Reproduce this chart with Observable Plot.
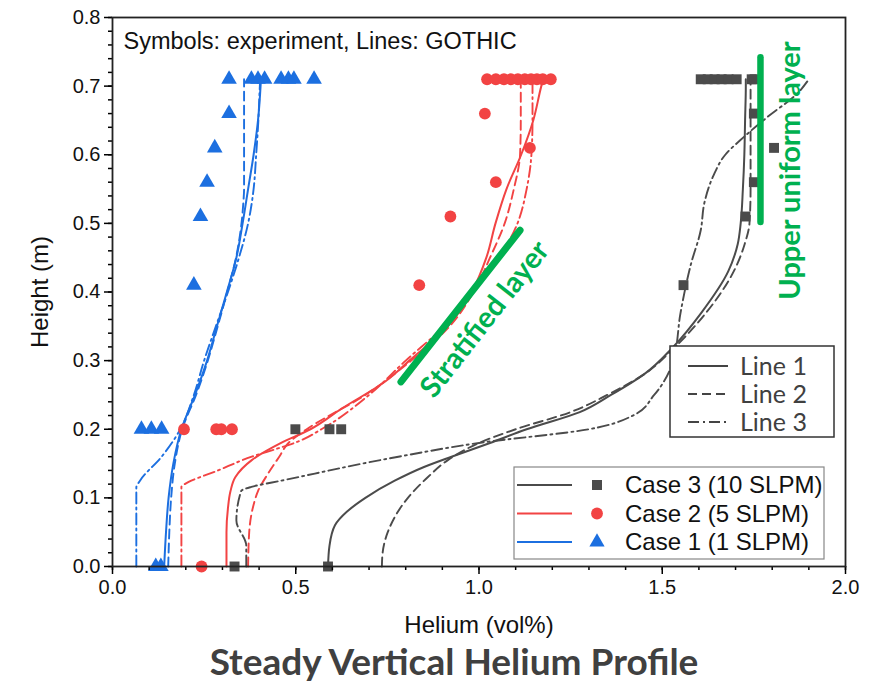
<!DOCTYPE html>
<html>
<head>
<meta charset="utf-8">
<script src="https://cdn.jsdelivr.net/npm/d3@7"></script>
<script src="https://cdn.jsdelivr.net/npm/@observablehq/plot@0.6"></script>
<style>
  body { margin: 0; background: #fff; }
  #chart svg { display: block; }
</style>
</head>
<body>
<div id="chart"></div>
<script>
// ---- Axis ticks ----
const xMajor = [0, 0.5, 1.0, 1.5, 2.0];
const yMajor = [0, 0.1, 0.2, 0.3, 0.4, 0.5, 0.6, 0.7, 0.8];

// ---- Case names and colours ----
const cases = ["Case 1 (1 SLPM)", "Case 2 (5 SLPM)", "Case 3 (10 SLPM)"];
const caseColors = ["#1c6fe0", "#f24343", "#4b4b4b"];
const caseSymbols = ["triangle", "circle", "square"];
const lineNames = ["Line 1", "Line 2", "Line 3"];
const lineDash = [null, "9,5", "11,4,2,4"];

// ---- Experiment (symbols): height (m) and helium (vol%) ----
const exp1Height = [0.71, 0.71, 0.71, 0.71, 0.71, 0.71, 0.71, 0.71, 0.66, 0.61, 0.56, 0.51, 0.41, 0.2, 0.2, 0.2, 0, 0];
const exp1Helium = [0.318, 0.379, 0.397, 0.415, 0.46, 0.48, 0.495, 0.55, 0.318, 0.279, 0.258, 0.24, 0.222, 0.079, 0.106, 0.134, 0.118, 0.132];

const exp2Height = [0.71, 0.71, 0.71, 0.71, 0.71, 0.71, 0.71, 0.71, 0.71, 0.71, 0.66, 0.61, 0.56, 0.51, 0.41, 0.2, 0.2, 0.2, 0.2, 0];
const exp2Helium = [1.022, 1.046, 1.068, 1.087, 1.106, 1.125, 1.142, 1.158, 1.174, 1.196, 1.016, 1.139, 1.046, 0.922, 0.837, 0.195, 0.283, 0.297, 0.326, 0.243];

const exp3Height = [0.71, 0.71, 0.71, 0.71, 0.71, 0.71, 0.71, 0.71, 0.66, 0.61, 0.56, 0.51, 0.41, 0.2, 0.2, 0.2, 0, 0];
const exp3Helium = [1.605, 1.624, 1.643, 1.662, 1.681, 1.703, 1.744, 1.752, 1.75, 1.805, 1.75, 1.727, 1.558, 0.499, 0.592, 0.624, 0.333, 0.588];

// ---- GOTHIC profiles (lines): height (m) and helium (vol%) ----
// Case 1
const c1l1Height = [0, 0.05, 0.1, 0.15, 0.2, 0.25, 0.3, 0.35, 0.4, 0.45, 0.5, 0.55, 0.6, 0.65, 0.7, 0.71];
const c1l1Helium = [0.141, 0.146, 0.153, 0.166, 0.188, 0.225, 0.258, 0.285, 0.312, 0.338, 0.355, 0.37, 0.385, 0.397, 0.404, 0.405];
const c1l2Height = [0, 0.05, 0.1, 0.15, 0.2, 0.25, 0.3, 0.35, 0.4, 0.45, 0.5, 0.53, 0.55, 0.6, 0.65, 0.7, 0.71];
const c1l2Helium = [0.152, 0.155, 0.16, 0.17, 0.19, 0.228, 0.26, 0.287, 0.313, 0.337, 0.352, 0.357, 0.359, 0.359, 0.359, 0.359, 0.359];
const c1l3Height = [0, 0.115, 0.125, 0.16, 0.2, 0.25, 0.3, 0.35, 0.4, 0.45, 0.5, 0.55, 0.6, 0.65, 0.7, 0.71];
const c1l3Helium = [0.065, 0.065, 0.075, 0.134, 0.185, 0.222, 0.25, 0.282, 0.315, 0.345, 0.37, 0.385, 0.392, 0.398, 0.402, 0.403];
// Case 2
const c2l1Height = [0, 0.05, 0.085, 0.11, 0.13, 0.155, 0.18, 0.2, 0.23, 0.27, 0.3, 0.35, 0.4, 0.45, 0.5, 0.55, 0.6, 0.65, 0.7, 0.71];
const c2l1Helium = [0.311, 0.311, 0.315, 0.322, 0.335, 0.38, 0.46, 0.54, 0.625, 0.745, 0.81, 0.915, 0.98, 1.02, 1.045, 1.075, 1.115, 1.148, 1.17, 1.175];
const c2l2Height = [0, 0.05, 0.09, 0.11, 0.135, 0.16, 0.18, 0.2, 0.25, 0.3, 0.35, 0.4, 0.45, 0.5, 0.55, 0.6, 0.65, 0.7, 0.71];
const c2l2Helium = [0.37, 0.373, 0.385, 0.397, 0.424, 0.455, 0.48, 0.53, 0.69, 0.815, 0.92, 0.985, 1.03, 1.07, 1.095, 1.112, 1.114, 1.114, 1.114];
const c2l3Height = [0, 0.116, 0.12, 0.14, 0.16, 0.172, 0.182, 0.2, 0.25, 0.3, 0.35, 0.4, 0.45, 0.5, 0.55, 0.6, 0.65, 0.7, 0.71];
const c2l3Helium = [0.188, 0.188, 0.197, 0.288, 0.38, 0.451, 0.506, 0.57, 0.7, 0.8, 0.905, 0.985, 1.055, 1.105, 1.13, 1.143, 1.146, 1.146, 1.146];
// Case 3
const c3l1Height = [0, 0.03, 0.06, 0.08, 0.1, 0.125, 0.145, 0.16, 0.18, 0.2, 0.225, 0.25, 0.28, 0.32, 0.37, 0.43, 0.47, 0.5, 0.55, 0.6, 0.65, 0.7, 0.71];
const c3l1Helium = [0.588, 0.592, 0.607, 0.64, 0.69, 0.77, 0.85, 0.925, 1.03, 1.13, 1.275, 1.36, 1.45, 1.53, 1.607, 1.68, 1.706, 1.714, 1.72, 1.724, 1.726, 1.728, 1.728];
const c3l2Height = [0, 0.02, 0.05, 0.1, 0.13, 0.155, 0.18, 0.2, 0.225, 0.25, 0.28, 0.32, 0.37, 0.43, 0.47, 0.5, 0.55, 0.6, 0.65, 0.7, 0.71];
const c3l2Helium = [0.735, 0.737, 0.751, 0.806, 0.86, 0.915, 1.0, 1.1, 1.25, 1.35, 1.45, 1.535, 1.62, 1.695, 1.725, 1.738, 1.741, 1.741, 1.741, 1.741, 1.741];
const c3l3Height = [0, 0.03, 0.067, 0.11, 0.116, 0.125, 0.16, 0.18, 0.2, 0.22, 0.25, 0.3, 0.37, 0.44, 0.49, 0.53, 0.57, 0.6, 0.626, 0.655, 0.69, 0.71];
const c3l3Helium = [0.365, 0.365, 0.338, 0.351, 0.379, 0.46, 0.78, 1.0, 1.3, 1.42, 1.478, 1.53, 1.55, 1.578, 1.605, 1.615, 1.64, 1.672, 1.723, 1.787, 1.87, 1.9];

// ---- Annotations ----
const stratHelium = [0.787, 1.112];
const stratHeight = [0.269, 0.49];
const upperHelium = [1.768, 1.768];
const upperHeight = [0.502, 0.742];
const noteText = ["Stratified layer", "Upper uniform layer"];
const noteHelium = [1.016, 1.85];
const noteHeight = [0.36, 0.577];
const noteRotate = [-52, -90];

const green = "#00b050";

// ---- Build tables ----
const zip = (cs, ln, he, h) => he.map((v, i) => ({case: cs, line: ln, helium: v, height: h[i]}));
const lines = [
  zip(cases[0], 0, c1l1Helium, c1l1Height), zip(cases[0], 1, c1l2Helium, c1l2Height), zip(cases[0], 2, c1l3Helium, c1l3Height),
  zip(cases[1], 0, c2l1Helium, c2l1Height), zip(cases[1], 1, c2l2Helium, c2l2Height), zip(cases[1], 2, c2l3Helium, c2l3Height),
  zip(cases[2], 0, c3l1Helium, c3l1Height), zip(cases[2], 1, c3l2Helium, c3l2Height), zip(cases[2], 2, c3l3Helium, c3l3Height)
].flat();
const exps = [
  zip(cases[0], -1, exp1Helium, exp1Height),
  zip(cases[1], -1, exp2Helium, exp2Height),
  zip(cases[2], -1, exp3Helium, exp3Height)
];
const strat = stratHelium.map((v, i) => ({helium: v, height: stratHeight[i]}));
const upper = upperHelium.map((v, i) => ({helium: v, height: upperHeight[i]}));
const notes = noteText.map((t, i) => ({text: t, helium: noteHelium[i], height: noteHeight[i], rotate: noteRotate[i]}));

const fmt = d3.format(".1f");
const sans = "'Liberation Sans', Arial, sans-serif";
const calib = "Lato, 'Open Sans', sans-serif";

const lineMarks = [0, 1, 2].map(k => Plot.line(lines.filter(d => d.line === k), {
  x: "helium", y: "height", z: "case", stroke: "case",
  strokeWidth: k === 0 ? 2 : 1.9, strokeDasharray: lineDash[k], curve: "monotone-y"
}));
const dotMarks = exps.map((data, i) => Plot.dot(data, {
  x: "helium", y: "height", fill: caseColors[i], stroke: "none",
  symbol: caseSymbols[i], r: i === 0 ? 5.8 : (i === 1 ? 5.9 : 5.6)
}));

const chart = Plot.plot({
  width: 871,
  height: 686,
  marginLeft: 112,
  marginRight: 26,
  marginTop: 17,
  marginBottom: 120,
  style: {fontFamily: sans, fontSize: "20px", background: "#fff"},
  x: {domain: [0, 2]},
  y: {domain: [0, 0.8]},
  color: {domain: cases, range: caseColors},
  marks: [
    ...lineMarks,
    ...dotMarks,
    // green annotation bars and labels
    Plot.line(strat, {x: "helium", y: "height", stroke: green, strokeWidth: 7}),
    Plot.line(upper, {x: "helium", y: "height", stroke: green, strokeWidth: 6.5}),
    Plot.text(notes, {x: "helium", y: "height", text: "text", rotate: "rotate", fill: green,
      fontSize: 29, fontWeight: "bold", fontFamily: calib}),
    // minor and major ticks
    Plot.axisX(d3.range(0, 2.0001, 0.1), {tickSize: 4, text: null, strokeWidth: 1.5, label: null}),
    Plot.axisX(xMajor, {tickSize: 8, tickPadding: 5, tickFormat: fmt, fill: "#111", strokeWidth: 1.5, fontSize: 20, label: null}),
    Plot.axisY(d3.range(0, 0.8001, 0.02), {tickSize: 4, text: null, strokeWidth: 1.5, label: null}),
    Plot.axisY(yMajor, {tickSize: 8, tickPadding: 4, tickFormat: fmt, fill: "#111", strokeWidth: 1.5, fontSize: 20, label: null}),
    Plot.frame({stroke: "#222", strokeWidth: 1.8}),
    // texts
    Plot.text(["Symbols: experiment, Lines: GOTHIC"], {frameAnchor: "top-left", dx: 11, dy: 24, lineAnchor: "middle", textAnchor: "start", fontSize: 23.5, fill: "#111"}),
    Plot.text(["Helium (vol%)"], {frameAnchor: "bottom", dy: 59, lineAnchor: "middle", fontSize: 24, fill: "#111"}),
    Plot.text(["Height (m)"], {frameAnchor: "left", dx: -72, rotate: -90, textAnchor: "middle", lineAnchor: "middle", fontSize: 24, fill: "#111"}),
    Plot.text(["Steady Vertical Helium Profile"], {frameAnchor: "bottom", dx: -25, dy: 97, lineAnchor: "middle", fontSize: 37, fontWeight: "bold", fontFamily: calib, fill: "#404040"})
  ]
});

document.getElementById("chart").appendChild(chart);

// ---- Boxed keys drawn into the same SVG ----
const svg = d3.select(chart);

// Line-style key
const k1 = svg.append("g").attr("font-family", calib).attr("font-size", 25).attr("text-anchor", "start");
k1.append("rect").attr("x", 670).attr("y", 346).attr("width", 164).attr("height", 91)
  .attr("fill", "#fff").attr("stroke", "#333").attr("stroke-width", 1.5);
lineNames.forEach((name, i) => {
  const y = 366 + i * 28;
  k1.append("line").attr("x1", 688).attr("x2", 728).attr("y1", y).attr("y2", y)
    .attr("stroke", "#444").attr("stroke-width", 1.8).attr("stroke-dasharray", lineDash[i]);
  k1.append("text").attr("x", 740).attr("y", y).attr("dy", "0.35em").attr("fill", "#404040").text(name);
});

// Case key
const k2 = svg.append("g").attr("font-family", sans).attr("font-size", 24).attr("text-anchor", "start");
k2.append("rect").attr("x", 514).attr("y", 467).attr("width", 310).attr("height", 92)
  .attr("fill", "#fff").attr("stroke", "#888").attr("stroke-width", 1.2);
[2, 1, 0].forEach((ci, row) => {
  const y = 485 + row * 28.5;
  k2.append("line").attr("x1", 517).attr("x2", 572).attr("y1", y).attr("y2", y)
    .attr("stroke", caseColors[ci]).attr("stroke-width", 2);
  k2.append("path").attr("transform", `translate(597,${y})`)
    .attr("d", d3.symbol(ci === 0 ? d3.symbolTriangle : ci === 1 ? d3.symbolCircle : d3.symbolSquare, ci === 1 ? 110 : 100)())
    .attr("fill", caseColors[ci]);
  k2.append("text").attr("x", 625).attr("y", y).attr("dy", "0.35em").attr("fill", "#111").text(cases[ci]);
});
</script>
</body>
</html>
